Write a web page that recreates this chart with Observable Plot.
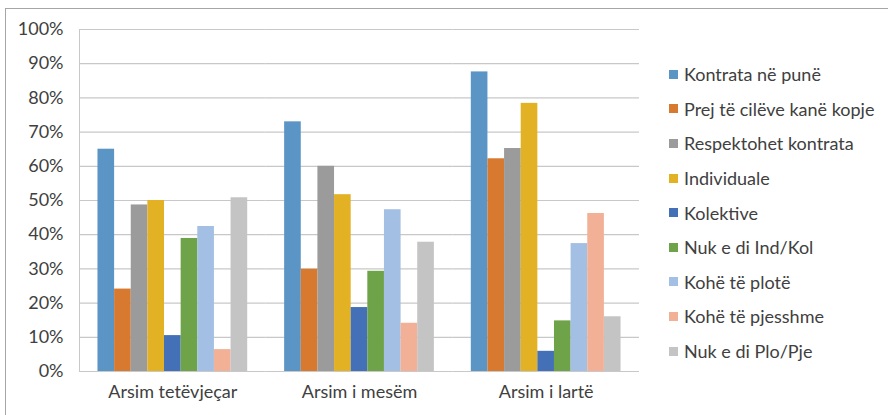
<!DOCTYPE html>
<html>
<head>
<meta charset="utf-8">
<script src="https://cdn.jsdelivr.net/npm/d3@7"></script>
<script src="https://cdn.jsdelivr.net/npm/@observablehq/plot@0.6"></script>
<style>
  html, body { margin: 0; padding: 0; background: #fff; }
  #wrap { position: relative; width: 888px; height: 415px; overflow: hidden; font-family: Lato, "Open Sans", sans-serif; }
  #border { position: absolute; left: 5px; top: 8px; width: 900px; height: 420px; border-left: 1px solid #a6a6a6; border-top: 1px solid #a6a6a6; box-sizing: border-box; }
  #chart { position: absolute; left: 0; top: 0; }
  #legend { position: absolute; left: 669px; top: 57px; font-size: 18px; color: #404040; }
  .item { height: 34.6px; display: flex; align-items: center; white-space: nowrap; }
  .sw { width: 9px; height: 9px; margin-right: 6px; flex: none; }
</style>
</head>
<body>
<div id="wrap">
  <div id="border"></div>
  <div id="chart"></div>
  <div id="legend"></div>
</div>
<script>
const groups = ["Arsim tetëvjeçar", "Arsim i mesëm", "Arsim i lartë"];
const series = ["Kontrata në punë", "Prej të cilëve kanë kopje", "Respektohet kontrata", "Individuale", "Kolektive", "Nuk e di Ind/Kol", "Kohë të plotë", "Kohë të pjesshme", "Nuk e di Plo/Pje"];
const colors = ["#5b95c5", "#d77a30", "#9b9b9b", "#e3b124", "#4470b8", "#6fa34a", "#a3bfe3", "#f2b096", "#c4c4c4"];
const valuesTetevjecar = [0.65, 0.241, 0.487, 0.50, 0.105, 0.389, 0.424, 0.064, 0.508];
const valuesMesem = [0.73, 0.299, 0.60, 0.517, 0.187, 0.293, 0.473, 0.141, 0.378];
const valuesLarte = [0.876, 0.622, 0.652, 0.784, 0.059, 0.148, 0.374, 0.462, 0.16];
const yTicks = [0, 0.1, 0.2, 0.3, 0.4, 0.5, 0.6, 0.7, 0.8, 0.9, 1.0];

const allValues = [valuesTetevjecar, valuesMesem, valuesLarte];
const data = [];
groups.forEach((g, gi) => series.forEach((s, si) => data.push({group: g, series: s, value: allValues[gi][si]})));

const chart = Plot.plot({
  width: 888,
  height: 415,
  marginLeft: 79,
  marginRight: 249,
  marginTop: 29,
  marginBottom: 44,
  style: {fontFamily: "Lato, 'Open Sans', sans-serif", fontSize: "18px", color: "#404040", background: "transparent"},
  fx: {domain: groups, padding: 0, round: false, label: null},
  x: {domain: series, paddingInner: 0, paddingOuter: 1.11, round: false, axis: null},
  y: {domain: [0, 1], label: null},
  color: {domain: series, range: colors},
  marks: [
    Plot.ruleY(yTicks, {stroke: "#c8c8c8", strokeWidth: 1.2}),
    Plot.frame({anchor: "left", stroke: "#c8c8c8", fx: [groups[0]]}),
    Plot.barY(data, {fx: "group", x: "series", y: "value", fill: "series"}),
    Plot.axisY(yTicks, {tickSize: 0, tickPadding: 16, tickFormat: d => Math.round(d * 100) + "%", fontSize: 18, label: null}),
    Plot.axisFx({anchor: "bottom", tickSize: 0, tickPadding: 14, fontSize: 18, label: null})
  ]
});
document.getElementById("chart").appendChild(chart);

const legend = document.getElementById("legend");
series.forEach((s, i) => {
  const it = document.createElement("div");
  it.className = "item";
  const sw = document.createElement("span");
  sw.className = "sw";
  sw.style.background = colors[i];
  const tx = document.createElement("span");
  tx.textContent = s;
  it.appendChild(sw);
  it.appendChild(tx);
  legend.appendChild(it);
});
</script>
</body>
</html>
